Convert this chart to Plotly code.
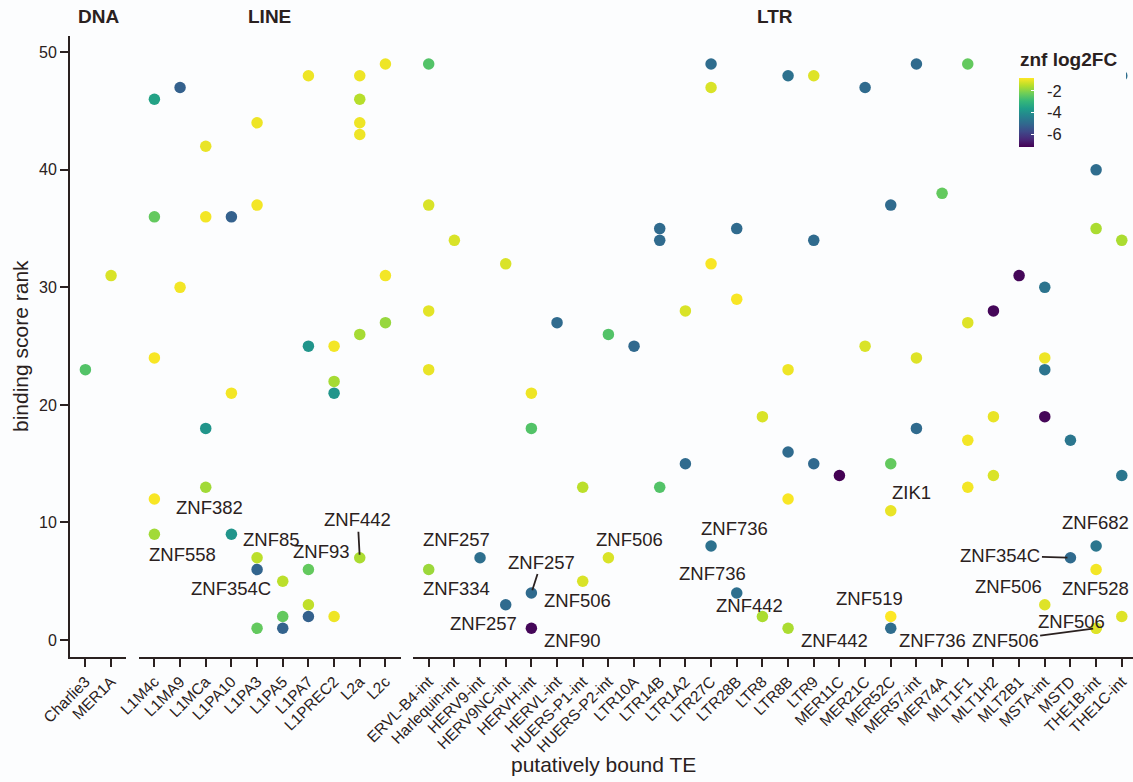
import plotly.graph_objects as go

# ---------------------------------------------------------------- data
facet_names = ["DNA", "LINE", "LTR"]

dna_te_order = ["Charlie3", "MER1A"]
line_te_order = ["L1M4c", "L1MA9", "L1MCa", "L1PA10", "L1PA3", "L1PA5",
                 "L1PA7", "L1PREC2", "L2a", "L2c"]
ltr_te_order = ["ERVL-B4-int", "Harlequin-int", "HERV9-int", "HERV9NC-int",
                "HERVH-int", "HERVL-int", "HUERS-P1-int", "HUERS-P2-int",
                "LTR10A", "LTR14B", "LTR1A2", "LTR27C", "LTR28B", "LTR8",
                "LTR8B", "LTR9", "MER11C", "MER21C", "MER52C", "MER57-int",
                "MER74A", "MLT1F1", "MLT1H2", "MLT2B1", "MSTA-int", "MSTD",
                "THE1B-int", "THE1C-int"]

dna_te = ["Charlie3", "MER1A"]
dna_rank = [23, 31]
dna_fc = [-2.6, -1.2]

line_te = (["L1M4c"] * 5 + ["L1MA9"] * 2 + ["L1MCa"] * 4 + ["L1PA10"] * 3 +
           ["L1PA3"] * 5 + ["L1PA5"] * 3 + ["L1PA7"] * 5 + ["L1PREC2"] * 4 +
           ["L2a"] * 6 + ["L2c"] * 3)
line_rank = [46, 36, 24, 12, 9,
             47, 30,
             42, 36, 18, 13,
             36, 21, 9,
             44, 37, 7, 6, 1,
             5, 2, 1,
             48, 25, 6, 3, 2,
             25, 22, 21, 2,
             48, 46, 44, 43, 26, 7,
             49, 31, 27]
line_fc = [-3.55, -2.4, -0.9, -0.9, -1.75,
           -5.25, -0.95,
           -1.05, -0.95, -3.9, -1.75,
           -5.25, -0.95, -3.9,
           -1.0, -0.95, -1.5, -5.15, -2.4,
           -1.5, -2.4, -5.2,
           -1.0, -3.9, -2.4, -1.45, -5.25,
           -0.95, -1.7, -3.9, -1.0,
           -1.0, -1.55, -1.0, -1.0, -1.7, -1.65,
           -1.0, -0.95, -1.85]

ltr_te = (["ERVL-B4-int"] * 5 + ["Harlequin-int"] + ["HERV9-int"] +
          ["HERV9NC-int"] * 2 + ["HERVH-int"] * 4 + ["HERVL-int"] +
          ["HUERS-P1-int"] * 2 + ["HUERS-P2-int"] * 2 + ["LTR10A"] +
          ["LTR14B"] * 3 + ["LTR1A2"] * 2 + ["LTR27C"] * 4 + ["LTR28B"] * 3 +
          ["LTR8"] * 2 + ["LTR8B"] * 5 + ["LTR9"] * 3 + ["MER11C"] +
          ["MER21C"] * 2 + ["MER52C"] * 5 + ["MER57-int"] * 3 + ["MER74A"] +
          ["MLT1F1"] * 4 + ["MLT1H2"] * 3 + ["MLT2B1"] + ["MSTA-int"] * 5 +
          ["MSTD"] * 2 + ["THE1B-int"] * 6 + ["THE1C-int"] * 4)
ltr_rank = [49, 37, 28, 23, 6,
            34,
            7,
            32, 3,
            21, 18, 4, 1,
            27,
            13, 5,
            26, 7,
            25,
            35, 34, 13,
            28, 15,
            49, 47, 32, 8,
            35, 29, 4,
            19, 2,
            48, 23, 16, 12, 1,
            48, 34, 15,
            14,
            47, 25,
            37, 15, 11, 2, 1,
            49, 24, 18,
            38,
            49, 27, 17, 13,
            28, 19, 14,
            31,
            30, 24, 23, 19, 3,
            17, 7,
            40, 35, 8, 6, 1, 1,
            48, 34, 14, 2]
ltr_fc = [-2.6, -1.2, -1.1, -1.05, -1.8,
          -1.2,
          -4.9,
          -1.2, -5.0,
          -1.0, -2.6, -5.0, -7.1,
          -5.0,
          -1.5, -1.2,
          -2.6, -1.2,
          -5.05,
          -5.0, -5.0, -2.6,
          -1.2, -5.0,
          -4.95, -1.2, -0.9, -4.85,
          -5.0, -0.9, -4.9,
          -1.2, -1.65,
          -4.85, -1.0, -5.0, -0.9, -1.65,
          -1.15, -5.0, -5.05,
          -7.2,
          -5.0, -1.2,
          -5.0, -2.4, -1.05, -0.85, -4.95,
          -5.0, -1.15, -5.0,
          -2.4,
          -2.4, -1.15, -0.95, -0.95,
          -7.1, -1.05, -1.2,
          -7.1,
          -4.75, -1.0, -4.75, -7.1, -1.15,
          -4.7, -5.0,
          -4.95, -1.65, -4.7, -0.95, -1.15, -1.15,
          -4.9, -1.65, -4.7, -1.15]

# labelled binding events
label_facet = ["LINE"] * 6 + ["LTR"] * 19
label_te = ["L1M4c", "L1MCa", "L1PA3", "L1PA3", "L1PA7", "L2a",
            "ERVL-B4-int", "HERV9-int", "HERVH-int", "HERV9NC-int",
            "HERVH-int", "HUERS-P1-int", "HUERS-P2-int", "LTR27C", "LTR28B",
            "LTR8", "LTR8B", "MER52C", "MER52C", "MER52C", "THE1B-int",
            "MSTD", "THE1B-int", "MSTA-int", "THE1B-int"]
label_rank = [9, 13, 7, 6, 6, 7,
              6, 7, 4, 3, 1, 5, 7, 8, 4, 2, 1, 11, 2, 1, 8, 7, 6, 3, 1]
label_text = ["ZNF558", "ZNF382", "ZNF85", "ZNF354C", "ZNF93", "ZNF442",
              "ZNF334", "ZNF257", "ZNF257", "ZNF257", "ZNF90", "ZNF506",
              "ZNF506", "ZNF736", "ZNF736", "ZNF442", "ZNF442", "ZIK1",
              "ZNF519", "ZNF736", "ZNF682", "ZNF354C", "ZNF528", "ZNF506",
              "ZNF506"]
label_extra_te = ["THE1B-int"]
label_extra_rank = [1]
label_extra_text = ["ZNF506"]

# repelled label placement: text-centre offset in pixels (right, down)
# and whether a leader segment is drawn
label_offset = [(28, 20), (4, 20), (14, -18), (-26, 19), (13, -18), (-2, -38),
                (28, 19), (-24, -18), (10, -31), (-22, 19), (41, 12),
                (-5, 19), (21, -18), (23, -18), (-24, -20), (-13, -11),
                (46, 12), (21, -18), (-21, -18), (42, 12), (-1, -24),
                (-70, -2), (-1, 19), (-36, -18), (-25, -7)]
label_segment = [False, False, False, False, False, True,
                 False, False, True, False, False, False, False, False, False,
                 False, False, False, False, False, False, True, False, False,
                 False]
extra_offset = [(-91, 12)]
extra_segment = [True]

# ---------------------------------------------------------------- layout
W, H = 1133, 782
BG = "#fcfdfe"
INK = "#2a2120"
FONT = "Liberation Sans, Arial, Helvetica, sans-serif"

step = 25.67                       # pixels per category
panel_left = [70.0, 139.0, 413.3]  # left edge of each facet panel (px)
n_cat = [len(dna_te_order), len(line_te_order), len(ltr_te_order)]
y_top_px, y_bot_px = 35.8, 656.5


def px_x(p):
    return p / W


def px_y(p):
    return (H - p) / H


fig = go.Figure()

cmin = min(dna_fc + line_fc + ltr_fc)
cmax = max(dna_fc + line_fc + ltr_fc)

panels = [(dna_te, dna_rank, dna_fc), (line_te, line_rank, line_fc),
          (ltr_te, ltr_rank, ltr_fc)]
orders = [dna_te_order, line_te_order, ltr_te_order]
axis_ids = ["x", "x2", "x3"]

for i, (tes, ranks, fcs) in enumerate(panels):
    fig.add_trace(go.Scatter(
        x=tes, y=ranks, mode="markers", xaxis=axis_ids[i], yaxis="y",
        marker=dict(size=11.5, color=fcs, coloraxis="coloraxis",
                    line=dict(width=0)),
        showlegend=False, hoverinfo="skip"))

axis_common = dict(
    type="category", showline=True, linecolor=INK, linewidth=2,
    ticks="outside", ticklen=8, tickwidth=2, tickcolor=INK,
    tickangle=-45, tickfont=dict(size=15.5, color=INK, family=FONT),
    showgrid=False, zeroline=False, anchor="y", automargin=False,
    fixedrange=True)

for i, ax in enumerate(["xaxis", "xaxis2", "xaxis3"]):
    left = panel_left[i]
    right = min(left + (n_cat[i] + 0.2) * step, W)
    hi = -0.6 + (right - left) / step
    fig.layout[ax] = dict(axis_common,
                          domain=[px_x(left), px_x(right)],
                          range=[-0.6, hi],
                          categoryorder="array", categoryarray=orders[i],
                          tickvals=orders[i])

cb_ticks = [-6, -4, -2]
fig.update_layout(
    yaxis=dict(domain=[px_y(y_bot_px), px_y(y_top_px)], range=[-1.4, 51.4],
               tickvals=[0, 10, 20, 30, 40, 50], showline=True,
               linecolor=INK, linewidth=2, ticks="outside", ticklen=8,
               tickwidth=2, tickcolor=INK,
               tickfont=dict(size=16, color=INK, family=FONT),
               showgrid=False, zeroline=False, anchor="x", automargin=False,
               fixedrange=True),
    coloraxis=dict(
        colorscale="Viridis", cmin=cmin, cmax=cmax,
        colorbar=dict(
            x=px_x(1019), xanchor="left", y=px_y(78.3), yanchor="top",
            xpad=0, ypad=0, len=69, lenmode="pixels", thickness=15,
            thicknessmode="pixels", outlinewidth=0, borderwidth=0,
            tickvals=cb_ticks,
            ticktext=["\u00a0\u00a0%d" % v for v in cb_ticks],
            ticks="inside", ticklen=3, tickwidth=1, tickcolor="white",
            tickfont=dict(size=16.5, color=INK, family=FONT))),
    width=W, height=H, template="none",
    margin=dict(l=0, r=0, t=0, b=0, autoexpand=False),
    paper_bgcolor=BG, plot_bgcolor=BG,
    font=dict(family=FONT, color=INK))

annotations = []

# facet strip titles
for i, name in enumerate(facet_names):
    left = panel_left[i]
    right = left + (n_cat[i] + 0.2) * step
    annotations.append(dict(
        text="<b>%s</b>" % name, x=px_x((left + right) / 2), y=px_y(16.5),
        xref="paper", yref="paper", showarrow=False,
        font=dict(size=19, color=INK, family=FONT),
        xanchor="center", yanchor="middle"))

# axis titles
annotations.append(dict(
    text="putatively bound TE", x=px_x(603.5), y=px_y(764), xref="paper",
    yref="paper", showarrow=False, font=dict(size=21, color=INK, family=FONT),
    xanchor="center", yanchor="middle"))
annotations.append(dict(
    text="binding score rank", x=px_x(21), y=px_y(346), xref="paper",
    yref="paper", showarrow=False, textangle=-90,
    font=dict(size=21, color=INK, family=FONT),
    xanchor="center", yanchor="middle"))

# legend background (right of the colour bar labels)
annotations.append(dict(
    text=" ", x=px_x(1062), y=px_y(68), xref="paper", yref="paper",
    showarrow=False, xanchor="left", yanchor="top", width=64, height=92,
    bgcolor=BG, borderpad=0, borderwidth=0))

# colour legend title
annotations.append(dict(
    text="<b>znf log2FC</b>", x=px_x(1018), y=px_y(59), xref="paper",
    yref="paper", showarrow=False, font=dict(size=19, color=INK, family=FONT),
    xanchor="left", yanchor="middle"))

# ZNF labels
facet_axis = {name: axis_ids[i] for i, name in enumerate(facet_names)}
all_te = label_te + label_extra_te
all_rank = label_rank + label_extra_rank
all_text = label_text + label_extra_text
all_facet = label_facet + ["LTR"]
all_off = label_offset + extra_offset
all_seg = label_segment + extra_segment

for te, rk, txt, fac, (dx, dy), seg in zip(all_te, all_rank, all_text,
                                            all_facet, all_off, all_seg):
    ann = dict(text=txt, x=te, y=rk, xref=facet_axis[fac], yref="y",
               font=dict(size=18.5, color=INK, family=FONT))
    if seg:
        ann.update(showarrow=True, ax=dx, ay=dy, arrowhead=0,
                   arrowwidth=1.8, arrowcolor=INK, standoff=3)
    else:
        ann.update(showarrow=False, xshift=dx, yshift=-dy,
                   xanchor="center", yanchor="middle")
    annotations.append(ann)

fig.update_layout(annotations=annotations)

fig.write_html("out.html")
